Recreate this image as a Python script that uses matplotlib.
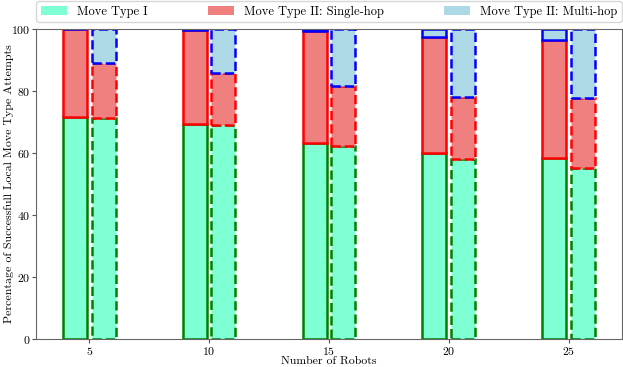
import matplotlib
matplotlib.use("Agg")
import matplotlib.pyplot as plt
import numpy as np
from matplotlib.patches import Patch

plt.rcParams['font.family'] = 'serif'
plt.rcParams['font.serif'] = ['cmr10', 'DejaVu Serif']
plt.rcParams['axes.formatter.use_mathtext'] = True
plt.rcParams['mathtext.fontset'] = 'cm'

robots = [5, 10, 15, 20, 25]
# left bars (solid outline)
type1_a = [71.6, 69.4, 63.1, 60.0, 58.2]
single_a = [28.4, 30.3, 36.3, 37.4, 38.3]
# right bars (dashed outline)
type1_b = [71.3, 68.9, 62.3, 58.1, 55.2]
single_b = [17.7, 16.9, 19.3, 20.0, 22.5]

labels = ['Move Type I', 'Move Type II: Single-hop', 'Move Type II: Multi-hop']
fills = ['aquamarine', 'lightcoral', 'lightblue']
edges = ['green', 'red', 'blue']

x = np.array(robots, dtype=float)
ta, sa = np.array(type1_a), np.array(single_a)
tb, sb = np.array(type1_b), np.array(single_b)
ma = 100 - ta - sa
mb = 100 - tb - sb

fig = plt.figure(figsize=(6.23, 3.67), dpi=100)
ax = fig.add_axes([0.058, 0.077, 0.94, 0.844])

w = 1.0
lw = 1.8
for off, parts, ls in [(-0.6, (ta, sa, ma), '-'), (0.6, (tb, sb, mb), '--')]:
    bottom = np.zeros_like(x)
    for i, vals in enumerate(parts):
        ax.bar(x + off, vals, w, bottom=bottom, color=fills[i], edgecolor=edges[i],
               linewidth=lw, linestyle=ls)
        bottom = bottom + vals

ax.set_ylim(0, 100)
ax.set_xticks(robots)
ax.set_xlabel('Number of Robots', fontsize=8.5, labelpad=0)
ax.set_ylabel('Percentage of Successfull Local Move Type Attempts', fontsize=8.6)
ax.yaxis.set_label_coords(-0.038, 0.5)
ax.tick_params(labelsize=8.5, color='#555555', length=3, pad=1.2)
for s in ax.spines.values():
    s.set_color('#666666')

handles = [Patch(facecolor=f, edgecolor='none') for f in fills]
ax.legend(handles, labels, bbox_to_anchor=(0, 1.0226, 1, 0.07), loc='lower left',
          mode='expand', ncol=3, fontsize=9, borderaxespad=0, frameon=True,
          handlelength=2.1, handleheight=0.75, borderpad=0.35)

fig.savefig('out.png', dpi=100)
